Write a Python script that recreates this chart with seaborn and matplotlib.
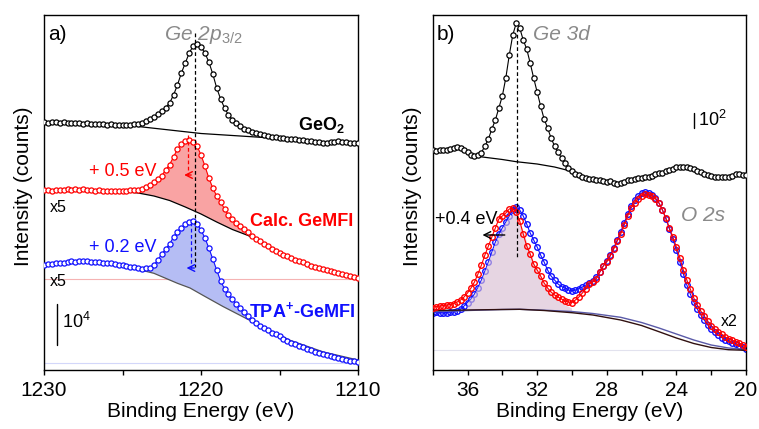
import numpy as np
import matplotlib
matplotlib.use("Agg")
import matplotlib.pyplot as plt
import seaborn as sns

# ---------------- panel a : Ge 2p3/2 ----------------
E_a = np.round(np.arange(1230, 1209.99, -0.25), 2)

geo2 = [248, 247.5, 248.5, 248, 247.5, 248, 247.5, 247, 247.5, 247,
        246.5, 247, 246.5, 246, 246.5, 246, 245.5, 246, 245.5, 245.5,
        245, 245.5, 245.5, 246, 246, 247.5, 249, 251, 253, 256,
        259, 262.5, 267, 275, 285, 297, 307, 317, 324, 326.5,
        323, 317, 308, 296, 282, 271, 262, 255, 250.5, 247,
        244, 241.5, 240, 238.5, 237, 236, 235, 234.5, 233.5, 233,
        232.5, 232, 231.5, 231, 231, 230.5, 230, 229.5, 229, 228.5,
        228, 227.5, 227.5, 228, 228.5, 229, 228.5, 228, 227.5, 227.5, 227]

calc = [180, 180.5, 179.5, 180.5, 180.5, 180, 181, 180.5, 181.5, 180.5,
        181, 180, 180.5, 179.5, 180, 179, 179.5, 179, 179.5, 179,
        179.5, 179.5, 180, 180, 180.5, 181.5, 183, 185, 188, 191,
        194.5, 200, 205.5, 213, 221, 226, 229, 230, 228.5, 224,
        215, 204, 192, 182, 174, 168, 161, 155, 151, 147,
        144, 141, 138, 134, 131, 129, 126.5, 124, 121.5, 119,
        117, 115.5, 114, 112, 110.5, 109, 108, 106, 104, 103,
        102, 101, 100, 99, 98, 97, 96, 95, 94, 93, 92]

tpa = [105.5, 106, 106.5, 107, 107.5, 107.5, 108, 109, 108.5, 109.5,
       109, 109, 108.5, 108.5, 108, 107.5, 107, 107, 106, 105.5,
       105, 104.5, 103.5, 103, 102.5, 101.5, 102, 102.5, 105, 110,
       116, 121, 126, 133, 138.5, 142, 146, 148.5, 149.5, 146,
       140, 132, 122, 111, 100, 89, 81, 76, 71, 66,
       62, 58, 54, 50.5, 47, 44.5, 42.5, 40, 37.5, 36,
       34, 31.5, 29, 27.5, 26, 24.5, 23, 21.5, 20, 18.5,
       17, 16, 15, 14, 13, 12, 11.5, 10.5, 9.5, 9, 8]

geo2_bg_E = [1226, 1224, 1222, 1220, 1218, 1216, 1214, 1212, 1210]
geo2_bg = [245.8, 243.5, 240, 236.5, 234.5, 232.5, 230.5, 228, 227]

calc_bg_E = [1227.25, 1226, 1225, 1224, 1223, 1222, 1221, 1220, 1219, 1218,
             1217, 1216, 1215, 1214.25]
calc_bg = [180.5, 179.5, 178.5, 177, 174, 169.5, 163, 156, 148, 140.5,
           134.5, 126, 117.5, 112]

tpa_bg_E = [1227.9, 1226.8, 1224.7, 1223, 1221.5, 1220.7, 1219.8, 1218.6,
            1216.5, 1215.8, 1214.3, 1212.2, 1210]
tpa_bg = [108.3, 106.7, 103.3, 96.7, 86.7, 82, 74, 63.5, 46.5, 41, 29.5, 18, 10]

# ---------------- panel b : Ge 3d / O 2s ----------------
E_b = np.round(np.arange(38, 19.99, -0.2), 2)

ge3d = [220, 219.5, 220, 220, 220.5, 221, 222.5, 223, 222.5, 220.5,
        218, 215.5, 214.5, 215, 217.5, 224, 231, 241, 250, 262,
        274, 292, 315, 335, 347, 342, 330, 321, 307, 292,
        278, 264, 251, 242, 232, 224, 218, 212, 207, 202,
        199, 196.5, 195, 193.5, 192, 191.5, 191, 190.5, 190, 189.5,
        188.5, 189, 187.5, 186.5, 187, 188.5, 190.5, 190, 191.5, 192.5,
        192, 193, 193.5, 194, 196, 197, 197.5, 199, 200.5, 201.5,
        203, 203.5, 203.5, 203, 202.5, 201, 199.5, 198, 196, 195,
        194, 193.5, 193.5, 193, 193, 193, 194.5, 196.5, 196.5, 195.5, 195]

calc_b = [62.5, 63.5, 64, 64.5, 65, 65.5, 66.5, 68, 70, 73,
          77, 82, 88, 96, 105, 115, 124, 133, 142, 151,
          154, 157, 161, 162, 158, 149, 136, 124, 116, 106,
          100, 94, 87, 82, 78, 75, 73, 71, 69, 68,
          67.5, 70, 73, 77, 81, 86.5, 88, 91, 98, 104,
          108, 114, 121, 129, 136, 145, 154, 162, 167, 171.5,
          174.5, 176, 175.5, 174, 171, 167, 160, 152, 142, 133,
          123, 112, 100, 90, 81, 72, 65, 59, 54, 49,
          44, 41, 38, 36, 33, 31, 30, 28, 27, 25, 23]

tpa_b = [57.5, 58, 57.5, 57, 57.5, 58, 58.5, 59.5, 61, 64,
         67.5, 71, 76, 82.5, 90, 99, 108, 118, 128, 136,
         142, 148, 154, 160, 163, 160, 154, 146, 137, 130,
         123, 115, 108, 100, 94, 90, 86, 83.5, 82, 80,
         79, 80, 81.5, 83, 85, 87, 89, 93, 98, 104,
         109, 115, 122, 130, 138, 147, 156, 164, 170, 174,
         177, 178, 177.5, 175.5, 172, 167, 160, 151, 141, 131,
         120, 108, 96, 85, 76, 68, 61, 55, 50, 45,
         41, 38, 35, 32.5, 30.5, 29, 27.5, 26, 24.5, 23, 21.5]

ge3d_bg_E = [35.6, 34, 33.2, 32, 31, 30.2, 29.6]
ge3d_bg = [214, 210.5, 208.3, 206, 203, 199.5, 195]

o2s_bg_E = [38, 36, 34, 33, 31.6, 30, 28.8, 27.2, 26, 25, 24, 23, 22, 21, 20]
calc_b_bg = [59.5, 60, 60.5, 60.7, 59.5, 57.3, 55, 50, 44.5, 38.3, 32, 26.5, 22.5, 20.3, 19.7]
tpa_b_bg = [58.3, 59.5, 60.5, 60.7, 59.8, 58.5, 56.5, 52.7, 47.5, 42, 36, 30, 25, 22, 20.5]

ge3d_fit_E = [37.6, 37.2, 36.8, 36.4, 36.0, 35.6, 35.2, 34.8, 34.4, 34.0, 33.6,
              33.2, 32.8, 32.4, 32.0, 31.6, 31.2, 30.8, 30.4, 30.0, 29.6]
ge3d_fit = [59.8, 60.5, 62, 64.5, 67, 75, 89, 107, 126, 141, 153,
            157, 140, 118, 99, 86, 77, 70, 65, 61.5, 57.5]

for arr in (geo2, calc, tpa):
    assert len(arr) == len(E_a), len(arr)
for arr in (ge3d, calc_b, tpa_b):
    assert len(arr) == len(E_b), len(arr)

# ---------------- style ----------------
sns.set_theme(style="white")
plt.rcParams["font.family"] = ["Liberation Sans", "DejaVu Sans"]
plt.rcParams["mathtext.fontset"] = "custom"
plt.rcParams["mathtext.rm"] = "Liberation Sans"
plt.rcParams["mathtext.it"] = "Liberation Sans:italic"
plt.rcParams["mathtext.bf"] = "Liberation Sans:bold"
plt.rcParams["text.color"] = "black"
plt.rcParams["axes.labelcolor"] = "black"
plt.rcParams["xtick.color"] = "black"
plt.rcParams["ytick.color"] = "black"

GRAY = "#8a8a8a"
RED = "#ff0000"
BLUE = "#1010ff"

fig = plt.figure(figsize=(7.59, 4.29), dpi=100)
axa = fig.add_axes([44 / 759, 59 / 429, 314 / 759, 355 / 429])
axb = fig.add_axes([432.7 / 759, 59 / 429, 313.3 / 759, 355 / 429])


def curve(ax, x, y, color, ms, face="white", mew=0.9, lw=0.8, z=3):
    sns.lineplot(x=x, y=y, ax=ax, color=color, marker="o", markersize=ms,
                 markerfacecolor=face, markeredgecolor=color, markeredgewidth=mew,
                 linewidth=lw, sort=False, estimator=None, zorder=z)


def region_fill(ax, x, y, bx, by, color, alpha=1.0, z=2):
    x = np.asarray(x); y = np.asarray(y)
    lo, hi = min(bx), max(bx)
    m = (x >= lo) & (x <= hi)
    px = np.concatenate([x[m], np.asarray(bx)[::-1]])
    py = np.concatenate([y[m], np.asarray(by)[::-1]])
    ax.fill(px, py, color=color, lw=0, alpha=alpha, zorder=z)


# ---- panel a ----
ax = axa
ax.axhline(90.7, color="#f5b3b3", lw=0.8, zorder=1)
ax.axhline(7.5, color="#d3d7fa", lw=0.8, zorder=1)
region_fill(ax, E_a, calc, calc_bg_E, calc_bg, "#f9a3a3")
region_fill(ax, E_a, tpa, tpa_bg_E, tpa_bg, "#b5bdf4")
ax.plot(geo2_bg_E, geo2_bg, color="black", lw=0.9, zorder=2.5)
ax.plot(calc_bg_E, calc_bg, color="black", lw=0.9, zorder=2.5)
ax.plot(tpa_bg_E, tpa_bg, color="#555555", lw=0.9, zorder=2.5)
curve(ax, E_a, geo2, "black", 3.7)
curve(ax, E_a, calc, RED, 3.7)
curve(ax, E_a, tpa, BLUE, 3.7)

ax.plot([1220.38, 1220.38], [337, 103], color="black", lw=0.9, ls=(0, (3, 2)), zorder=4)
ax.plot([1220.83, 1220.83], [235, 195], color=RED, lw=0.9, ls=(0, (3, 2)), zorder=4)
ax.plot([1220.66, 1220.66], [148, 102], color=BLUE, lw=0.9, ls=(0, (3, 2)), zorder=4)
ax.annotate("", xy=(1221.25, 195), xytext=(1220.45, 195),
            arrowprops=dict(arrowstyle="->", color=RED, lw=1.0), zorder=5)
ax.annotate("", xy=(1221.1, 102), xytext=(1220.25, 102),
            arrowprops=dict(arrowstyle="->", color=BLUE, lw=1.0), zorder=5)

ax.text(0.013, 0.944, "a)", transform=ax.transAxes, fontsize=15, ha="left", va="center")
ax.text(1219.87, 335, r"Ge 2p$_{\mathit{3/2}}$", color=GRAY, fontsize=15,
        fontstyle="italic", ha="center", va="center", zorder=2)
ax.text(1210.83, 245, r"GeO$_\mathbf{2}$", fontsize=13, fontweight="bold", ha="right", va="center")
ax.text(1210.32, 148.5, "Calc. GeMFI", fontsize=13, fontweight="bold", color=RED,
        ha="right", va="center")
ax.text(1210.19, 59.5, r"TPA$^\mathbf{+}$-GeMFI", fontsize=13, fontweight="bold", color=BLUE,
        ha="right", va="center")
ax.text(1227.13, 198.5, "+ 0.5 eV", fontsize=13, color=RED, ha="left", va="center")
ax.text(1227.13, 122.5, "+ 0.2 eV", fontsize=13, color=BLUE, ha="left", va="center")
ax.text(1229.62, 162, "x5", fontsize=11.5, ha="left", va="center")
ax.text(1229.62, 88, "x5", fontsize=11.5, ha="left", va="center")
ax.plot([1229.15, 1229.15], [25, 66], color="black", lw=1.0)
ax.text(1228.85, 48, r"10$^4$", fontsize=13, ha="left", va="center")

ax.set_xlim(1230, 1210)
ax.set_ylim(0, 355)
ax.set_xticks([1230, 1220, 1210])
ax.set_xticks([1225, 1215], minor=True)

# ---- panel b ----
ax = axb
ax.axhline(20, color="#e2e2ee", lw=0.8, zorder=1)
ax.plot(ge3d_bg_E, ge3d_bg, color="black", lw=0.9, zorder=2.5)
curve(ax, E_b, ge3d, "black", 3.8)
curve(ax, E_b, tpa_b, BLUE, 4.0, face="none", mew=1.0, lw=0.8, z=2)
region_fill(ax, ge3d_fit_E, ge3d_fit, [e for e in o2s_bg_E if 29.6 <= e <= 37.6],
            [v for e, v in zip(o2s_bg_E, calc_b_bg) if 29.6 <= e <= 37.6],
            "#d9bfd3", alpha=0.65, z=2.6)
ax.plot(o2s_bg_E, tpa_b_bg, color="#5a5aa8", lw=1.0, zorder=2.7)
ax.plot(o2s_bg_E, calc_b_bg, color="#301010", lw=1.0, zorder=2.7)
curve(ax, E_b, calc_b, RED, 4.0, face="none", mew=1.0, lw=0.8, z=3)

ax.plot([33.13, 33.13], [342, 112], color="black", lw=0.9, ls=(0, (3, 2)), zorder=4)
ax.annotate("", xy=(35.3, 135), xytext=(33.7, 135),
            arrowprops=dict(arrowstyle="->", color="black", lw=1.0), zorder=5)

ax.text(0.014, 0.944, "b)", transform=ax.transAxes, fontsize=15, ha="left", va="center")
ax.text(32.24, 335, "Ge 3d", color=GRAY, fontsize=15, fontstyle="italic", ha="left", va="center")
ax.text(23.71, 154.5, "O 2s", color=GRAY, fontsize=15, fontstyle="italic", ha="left", va="center")
ax.text(21.42, 49, "x2", fontsize=11.5, ha="left", va="center")
ax.text(37.87, 151, "+0.4 eV", fontsize=13, ha="left", va="center")
ax.plot([23.01, 23.01], [242, 257], color="black", lw=1.0)
ax.text(22.78, 250, r"10$^2$", fontsize=13, ha="left", va="center")

ax.set_xlim(38, 20)
ax.set_ylim(0, 355)
ax.set_xticks([36, 32, 28, 24, 20])
ax.set_xticks([38, 34, 30, 26, 22], minor=True)

for ax in (axa, axb):
    ax.set_yticks([])
    ax.set_xlabel("Binding Energy (eV)", fontsize=15, labelpad=2, color="black")
    ax.set_ylabel("Intensity (counts)", fontsize=15, color="black")
    ax.yaxis.set_label_coords(-0.035, 0.517)
    ax.tick_params(axis="x", which="both", direction="out", bottom=True, top=False,
                   length=3.6, width=1.0, colors="black", labelsize=15, pad=4)
    for s in ax.spines.values():
        s.set_visible(True)
        s.set_color("black")
        s.set_linewidth(1.0)
    ax.grid(False)
    ax.set_facecolor("white")

fig.savefig("out.png", dpi=100, facecolor="white")
